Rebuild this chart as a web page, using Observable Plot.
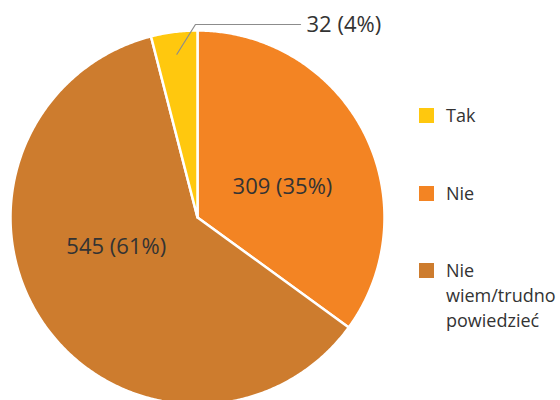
<!DOCTYPE html>
<html>
<head>
<meta charset="utf-8">
<script src="https://cdn.jsdelivr.net/npm/d3@7"></script>
<script src="https://cdn.jsdelivr.net/npm/@observablehq/plot@0.6"></script>
<style>
  html, body { margin: 0; padding: 0; background: #fff; }
  #wrap { position: relative; width: 560px; height: 400px; overflow: hidden; font-family: "Open Sans", sans-serif; }
  #legend { position: absolute; left: 419px; top: 0; color: #333; font-size: 18px; line-height: 25px; }
  .item { position: absolute; left: 0; display: flex; align-items: flex-start; width: 141px; }
  .sw { width: 15px; height: 15px; flex: none; margin-top: 5px; margin-right: 12px; }
</style>
</head>
<body>
<div id="wrap"><div id="legend"></div></div>
<script>
// Data (clockwise from 12 o'clock)
const categories = ["Nie", "Nie wiem/trudno powiedzieć", "Tak"];
const values = [309, 545, 32];
const percents = [35, 61, 4];
// Legend order and colours
const legendOrder = ["Tak", "Nie", "Nie wiem/trudno powiedzieć"];
const legendLines = [["Tak"], ["Nie"], ["Nie", "wiem/trudno", "powiedzieć"]];
const colors = ["#FFC80E", "#F38423", "#CD7C2E"];

const data = categories.map((c, i) => ({cat: c, value: values[i], pct: percents[i]}));
const arcs = d3.pie().sort(null).value(d => d.pct).startAngle(0).endAngle(2 * Math.PI)(data);

// Build slice polygons
const pts = [];
arcs.forEach(a => {
  const cat = a.data.cat;
  pts.push({cat, x: 0, y: 0});
  const n = Math.max(2, Math.ceil((a.endAngle - a.startAngle) / (Math.PI / 360)));
  for (let k = 0; k <= n; k++) {
    const t = a.startAngle + (a.endAngle - a.startAngle) * k / n;
    pts.push({cat, x: Math.sin(t), y: Math.cos(t)});
  }
  pts.push({cat, x: 0, y: 0});
});

const mid = a => (a.startAngle + a.endAngle) / 2;
const at = (a, r) => ({x: r * Math.sin(mid(a)), y: r * Math.cos(mid(a))});
const labelOf = a => `${a.data.value} (${a.data.pct}%)`;

const byCat = Object.fromEntries(arcs.map(a => [a.data.cat, a]));
const nie = byCat["Nie"], wiem = byCat["Nie wiem/trudno powiedzieć"], tak = byCat["Tak"];

const nieL = [{...at(nie, 0.48), t: labelOf(nie)}];
const wiemL = [{...at(wiem, 0.48), t: labelOf(wiem)}];
const s = at(tak, 0.88);
const elbow = {x: -0.011, y: 1.032 * Math.cos(tak.endAngle)};
const leader = [s, elbow, {x: 0.551, y: elbow.y}];
const takL = [{x: 0.551, y: elbow.y, t: labelOf(tak)}];

const font = "Open Sans, sans-serif";
const chart = Plot.plot({
  width: 560, height: 400,
  margin: 0,
  x: {domain: [-1, 1], range: [10, 384], axis: null},
  y: {domain: [-1, 1], range: [404, 30], axis: null},
  color: {domain: legendOrder, range: colors},
  style: {fontFamily: font, background: "transparent"},
  marks: [
    Plot.line(pts, {x: "x", y: "y", z: "cat", fill: "cat", stroke: "white", strokeWidth: 2.5, strokeLinejoin: "round", curve: "linear"}),
    Plot.line(leader, {x: "x", y: "y", stroke: "#8c8c8c", strokeWidth: 1.2}),
    Plot.text(nieL, {x: "x", y: "y", text: "t", fontSize: 22, fill: "#333", dx: 5, dy: 10}),
    Plot.text(wiemL, {x: "x", y: "y", text: "t", fontSize: 22, fill: "#333", dx: -7, dy: -21}),
    Plot.text(takL, {x: "x", y: "y", text: "t", fontSize: 22, fill: "#333", textAnchor: "start", dx: 6})
  ]
});
document.getElementById("wrap").prepend(chart);
chart.style.position = "absolute"; chart.style.left = "0"; chart.style.top = "0";

// Legend
const legendTops = [103, 181, 258];
const legend = document.getElementById("legend");
legendOrder.forEach((c, i) => {
  const it = document.createElement("div");
  it.className = "item";
  it.style.top = legendTops[i] + "px";
  const sw = document.createElement("div");
  sw.className = "sw";
  sw.style.background = colors[i];
  const tx = document.createElement("div");
  tx.innerHTML = legendLines[i].join("<br>");
  it.appendChild(sw); it.appendChild(tx);
  legend.appendChild(it);
});
</script>
</body>
</html>
